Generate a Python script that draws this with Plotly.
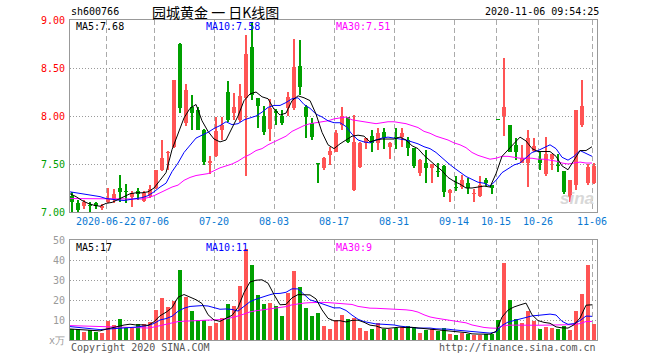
import plotly.graph_objects as go

# ---------------- data ----------------
date_labels = ["2020-06-22", "07-06", "07-20", "08-03", "08-17", "08-31", "09-14", "10-15", "10-26", "11-06"]
date_index = [6, 14, 24, 34, 44, 54, 64, 71, 78, 87]

opens = [7.17, 7.097, 7.066, 7.07, 7.09, 7.038, 7.108, 7.14, 7.25, 7.21,
         7.16, 7.215, 7.118, 7.17, 7.247, 7.438, 7.615, 7.68, 8.75, 7.93,
         8.09, 8.063, 7.854, 7.507, 7.583, 7.854, 8.254, 8.035, 7.958, 8.184,
         8.72, 8.184, 8.0, 7.865, 8.05, 8.0, 8.08, 8.08, 8.52, 8.09,
         7.93, 7.505, 7.455, 7.594, 7.63, 7.906, 7.986, 7.229, 7.47, 7.715,
         7.79, 7.715, 7.837, 7.68, 7.78, 7.78, 7.75, 7.663, 7.41, 7.507,
         7.455, 7.425, 7.48, 7.195, 7.257, 7.26, 7.306, 7.184, 7.167, 7.33,
         7.28, 7.965, 8.0, 7.906, 7.70, 7.514, 7.514, 7.64, 7.55, 7.396,
         7.555, 7.485, 7.427, 7.16, 7.28, 7.906, 7.30, 7.306]
highs = [7.21, 7.12, 7.12, 7.10, 7.10, 7.085, 7.25, 7.24, 7.385, 7.29,
         7.22, 7.25, 7.22, 7.28, 7.44, 7.75, 7.64, 8.38, 8.76, 8.33,
         8.22, 8.09, 7.86, 7.58, 7.99, 7.99, 8.36, 8.236, 8.33, 8.844,
         8.98, 8.19, 8.10, 8.18, 8.07, 8.06, 8.25, 8.80, 8.79, 8.11,
         7.98, 7.505, 7.57, 7.68, 7.85, 8.09, 7.99, 8.01, 7.73, 7.77,
         7.85, 7.87, 7.87, 7.73, 7.87, 7.87, 7.78, 7.67, 7.55, 7.646,
         7.50, 7.51, 7.49, 7.24, 7.37, 7.39, 7.35, 7.236, 7.37, 7.35,
         7.28, 7.965, 8.608, 7.91, 7.77, 7.70, 7.854, 7.77, 7.63, 7.78,
         7.60, 7.60, 7.43, 7.33, 8.06, 8.38, 7.50, 7.51]
lows = [7.00, 7.00, 7.03, 7.00, 7.035, 7.025, 7.09, 7.09, 7.10, 7.09,
        7.055, 7.125, 7.10, 7.15, 7.24, 7.43, 7.44, 7.67, 8.03, 7.90,
        7.85, 7.85, 7.49, 7.40, 7.57, 7.75, 7.94, 7.958, 7.94, 7.375,
        8.17, 7.88, 7.80, 7.74, 7.91, 7.91, 8.0, 8.06, 8.22, 7.77,
        7.75, 7.30, 7.44, 7.49, 7.62, 7.85, 7.72, 7.22, 7.46, 7.66,
        7.62, 7.65, 7.66, 7.55, 7.66, 7.68, 7.58, 7.455, 7.375, 7.306,
        7.30, 7.36, 7.16, 7.10, 7.22, 7.24, 7.19, 7.107, 7.16, 7.27,
        7.19, 7.96, 7.79, 7.63, 7.54, 7.51, 7.264, 7.63, 7.44, 7.37,
        7.44, 7.42, 7.19, 7.107, 7.23, 7.89, 7.28, 7.29]
closes = [7.108, 7.021, 7.108, 7.06, 7.063, 7.066, 7.14, 7.188, 7.21, 7.205,
          7.195, 7.188, 7.195, 7.24, 7.438, 7.563, 7.62, 8.375, 8.08, 8.27,
          8.03, 7.854, 7.524, 7.531, 7.844, 7.903, 7.958, 8.097, 8.21, 8.65,
          8.22, 8.10, 7.837, 8.08, 8.03, 7.93, 8.2, 8.507, 8.306, 7.99,
          7.785, 7.50, 7.566, 7.636, 7.826, 8.0, 7.733, 7.733, 7.715, 7.768,
          7.715, 7.82, 7.768, 7.72, 7.77, 7.826, 7.663, 7.48, 7.54, 7.458,
          7.5, 7.42, 7.212, 7.23, 7.25, 7.33, 7.247, 7.2, 7.28, 7.30,
          7.247, 7.96, 8.09, 7.63, 7.63, 7.56, 7.767, 7.688, 7.514, 7.60,
          7.60, 7.48, 7.21, 7.33, 8.06, 8.104, 7.472, 7.483]
volumes = [5.5, 5.5, 4.2, 5.2, 4.2, 3.7, 9.7, 7.7, 10.3, 6.0,
           5.8, 7.8, 8.0, 9.0, 14.8, 21.0, 16.5, 19.5, 35.0, 21.7,
           14.5, 10.0, 10.0, 7.0, 8.5, 11.0, 18.0, 17.0, 27.0, 45.5,
           37.5, 22.5, 18.0, 18.5, 17.0, 12.0, 23.5, 34.5, 26.5, 16.2,
           12.0, 13.5, 7.0, 5.5, 9.8, 12.5, 10.3, 11.0, 6.0, 4.5,
           5.3, 8.3, 5.7, 5.3, 6.2, 6.7, 7.0, 6.5, 3.7, 5.0,
           5.3, 4.5, 6.0, 3.2, 2.5, 3.7, 3.2, 2.7, 2.7, 2.8,
           3.2, 10.0, 38.7, 20.0, 10.7, 8.3, 14.5, 9.5, 5.5, 6.3,
           6.0, 5.5, 7.0, 5.0, 14.5, 23.0, 37.5, 8.0]

ma5 = [7.19, 7.16, 7.12, 7.09, 7.07, 7.06, 7.09, 7.10, 7.13, 7.16,
       7.19, 7.20, 7.20, 7.21, 7.25, 7.33, 7.41, 7.65, 7.82, 7.98,
       8.08, 8.12, 7.95, 7.84, 7.76, 7.73, 7.75, 7.87, 8.00, 8.16,
       8.23, 8.25, 8.20, 8.18, 8.07, 8.01, 8.03, 8.16, 8.21, 8.19,
       8.16, 8.02, 7.83, 7.70, 7.66, 7.71, 7.75, 7.79, 7.80, 7.79,
       7.73, 7.75, 7.76, 7.76, 7.76, 7.78, 7.75, 7.69, 7.66, 7.59,
       7.53, 7.48, 7.43, 7.36, 7.32, 7.29, 7.25, 7.25, 7.26, 7.27,
       7.26, 7.40, 7.58, 7.65, 7.71, 7.78, 7.74, 7.66, 7.63, 7.63,
       7.63, 7.58, 7.48, 7.44, 7.54, 7.64, 7.64, 7.68]
ma10 = [7.21, 7.20, 7.19, 7.18, 7.17, 7.16, 7.14, 7.13, 7.125, 7.12,
        7.13, 7.14, 7.15, 7.17, 7.21, 7.26, 7.30, 7.42, 7.51, 7.62,
        7.70, 7.77, 7.80, 7.83, 7.87, 7.90, 7.94, 7.91, 7.92, 7.96,
        7.98, 8.00, 8.04, 8.09, 8.11, 8.11, 8.14, 8.18, 8.19, 8.12,
        8.08, 8.02, 7.99, 7.95, 7.93, 7.93, 7.89, 7.81, 7.75, 7.73,
        7.72, 7.75, 7.77, 7.78, 7.77, 7.76, 7.75, 7.73, 7.71, 7.68,
        7.66, 7.62, 7.56, 7.51, 7.46, 7.41, 7.37, 7.34, 7.31, 7.30,
        7.27, 7.33, 7.41, 7.45, 7.49, 7.51, 7.57, 7.62, 7.64, 7.67,
        7.70, 7.66, 7.57, 7.54, 7.58, 7.64, 7.61, 7.58]
ma30 = [7.14, 7.14, 7.14, 7.14, 7.14, 7.14, 7.135, 7.135, 7.135, 7.135,
        7.135, 7.135, 7.135, 7.15, 7.17, 7.20, 7.23, 7.26, 7.28, 7.33,
        7.36, 7.38, 7.39, 7.40, 7.43, 7.46, 7.48, 7.50, 7.53, 7.57,
        7.60, 7.64, 7.66, 7.70, 7.73, 7.76, 7.79, 7.84, 7.87, 7.90,
        7.92, 7.93, 7.94, 7.95, 7.97, 7.98, 7.99, 7.96, 7.95, 7.94,
        7.93, 7.92, 7.93, 7.94, 7.94, 7.93, 7.92, 7.90, 7.88, 7.84,
        7.82, 7.79, 7.77, 7.75, 7.72, 7.70, 7.67, 7.62, 7.59, 7.57,
        7.55, 7.56, 7.58, 7.58, 7.57, 7.56, 7.56, 7.56, 7.55, 7.55,
        7.54, 7.53, 7.51, 7.50, 7.51, 7.52, 7.51, 7.51]

vma5 = [5.5, 5.3, 5.0, 4.9, 4.92, 4.56, 5.4, 6.1, 7.12, 7.48,
        7.9, 7.52, 7.58, 7.32, 9.08, 12.12, 13.86, 16.16, 21.36, 22.74,
        21.44, 20.14, 18.24, 12.64, 10.0, 9.3, 10.9, 12.3, 16.3, 23.7,
        29.0, 29.9, 30.1, 28.4, 22.7, 17.6, 17.8, 21.1, 22.7, 22.54,
        22.54, 20.54, 15.04, 10.84, 9.56, 9.66, 9.02, 9.82, 9.92, 8.86,
        7.42, 7.02, 5.96, 5.82, 6.16, 6.44, 6.18, 6.34, 6.02, 5.78,
        5.5, 5.0, 4.9, 4.8, 4.3, 3.98, 3.72, 3.06, 2.96, 3.02,
        2.92, 4.28, 11.48, 14.94, 16.52, 17.54, 18.44, 12.6, 9.7, 8.82,
        8.36, 6.56, 6.06, 5.96, 7.6, 11.0, 17.4, 17.6]
vma10 = [6.7, 6.4, 6.0, 5.8, 5.5, 5.2, 5.4, 5.7, 6.0, 6.2,
         6.23, 6.46, 6.84, 7.22, 8.28, 10.01, 10.69, 11.87, 14.34, 15.91,
         16.78, 17.0, 17.2, 17.0, 16.37, 15.37, 15.52, 15.27, 14.47, 16.85,
         19.15, 20.4, 21.2, 22.35, 23.2, 23.3, 23.85, 25.6, 25.55, 22.62,
         20.07, 19.17, 18.07, 16.77, 16.05, 16.1, 14.78, 12.43, 10.38, 9.21,
         8.54, 8.02, 7.89, 7.87, 7.51, 6.93, 6.6, 6.15, 5.92, 5.97,
         5.97, 5.59, 5.62, 5.41, 5.04, 4.74, 4.36, 3.98, 3.88, 3.66,
         3.45, 4.0, 7.27, 8.95, 9.77, 10.23, 11.36, 12.04, 12.32, 12.67,
         12.95, 12.5, 9.33, 7.83, 8.21, 9.68, 11.98, 11.83]
vma30 = [7.2, 7.1, 7.0, 6.9, 6.8, 6.7, 6.7, 6.6, 6.6, 6.5,
         6.3, 6.0, 5.9, 6.0, 6.5, 7.2, 7.6, 8.6, 9.2, 9.4,
         9.5, 9.6, 9.8, 9.9, 10.0, 10.2, 10.5, 11.2, 12.0, 12.99,
         14.05, 14.62, 15.08, 15.52, 15.95, 16.23, 16.69, 17.58, 18.12, 18.46,
         18.67, 18.86, 18.82, 18.71, 18.54, 18.26, 18.05, 17.77, 16.8, 16.23,
         15.92, 15.86, 15.72, 15.66, 15.59, 15.44, 15.08, 14.73, 13.95, 12.6,
         11.53, 10.93, 10.53, 10.02, 9.53, 9.26, 8.58, 7.52, 6.73, 6.28,
         5.99, 5.87, 6.93, 7.41, 7.44, 7.3, 7.44, 7.39, 7.37, 7.43,
         7.46, 7.36, 7.41, 7.4, 7.67, 8.22, 9.23, 9.28]

price_ticks = [7.0, 7.5, 8.0, 8.5, 9.0]
price_tick_colors = ["#00a000", "#00a000", "#ff0000", "#ff0000", "#ff0000"]
vol_ticks = [0, 10, 20, 30, 40, 50]
vol_tick_text = ["x万", "10", "20", "30", "40", "50"]

# ---------------- style ----------------
RED = "#ff5454"
GREEN = "#00a000"
MONO = "DejaVu Sans Mono"
W, H = 660, 360
PL, PR = 70, 597          # plot left / right (px)
MAIN_T, MAIN_B = 20, 212  # main panel top / bottom (px)
VOL_T, VOL_B = 240, 340   # volume panel top / bottom (px)
LINE_SHIFT = -0.33        # MA points & grid sit slightly left of candle centres

n = len(closes)
idx = list(range(n))
is_up = [c >= o for o, c in zip(opens, closes)]
colors = [RED if u else GREEN for u in is_up]
body_base = [min(o, c) for o, c in zip(opens, closes)]
body_h = [max(abs(c - o), 0.011) for o, c in zip(opens, closes)]
wick_h = [h - l for h, l in zip(highs, lows)]
line_x = [i + LINE_SHIFT for i in idx]

fig = go.Figure()

# wicks
fig.add_trace(go.Bar(x=idx, y=wick_h, base=lows, width=0.17,
                     marker=dict(color=colors, line=dict(width=0)),
                     xaxis="x", yaxis="y", hoverinfo="skip"))
# bodies
fig.add_trace(go.Bar(x=idx, y=body_h, base=body_base, width=0.8,
                     marker=dict(color=colors, line=dict(width=0)),
                     xaxis="x", yaxis="y", hoverinfo="skip"))
# price MAs
for vals, col in [(ma30, "#ff00ff"), (ma10, "#0000ff"), (ma5, "#000000")]:
    fig.add_trace(go.Scatter(x=line_x, y=vals, mode="lines",
                             line=dict(color=col, width=1), xaxis="x", yaxis="y",
                             hoverinfo="skip"))
# volume bars
fig.add_trace(go.Bar(x=idx, y=volumes, width=0.8,
                     marker=dict(color=colors, line=dict(width=0)),
                     xaxis="x2", yaxis="y2", hoverinfo="skip"))
for vals, col in [(vma30, "#ff00ff"), (vma10, "#0000ff"), (vma5, "#000000")]:
    fig.add_trace(go.Scatter(x=line_x, y=vals, mode="lines",
                             line=dict(color=col, width=1), xaxis="x2", yaxis="y2",
                             hoverinfo="skip"))

xdom = [PL / W, PR / W]
xr = [(PL - 72) / 6.0, (PR - 72) / 6.0]
grid_x = [i + LINE_SHIFT for i in date_index]

common_x = dict(domain=xdom, range=xr, tickmode="array", tickvals=grid_x,
                showgrid=True, gridcolor="#aaaaaa", griddash="5px,3px", gridwidth=1,
                showline=True, mirror=True, linecolor="#999999", linewidth=1,
                zeroline=False, ticks="", fixedrange=True, automargin=False)

fig.update_layout(
    width=W, height=H, margin=dict(l=0, r=0, t=0, b=0, pad=0, autoexpand=False),
    paper_bgcolor="white", plot_bgcolor="white", showlegend=False,
    barmode="overlay", bargap=0,
    xaxis=dict(common_x, anchor="y", ticktext=date_labels,
               tickfont=dict(family=MONO, size=10, color="#0a78d2")),
    yaxis=dict(domain=[(H - MAIN_B) / H, (H - MAIN_T) / H], range=[7.0, 9.0],
               tickmode="array", tickvals=price_ticks,
               ticktext=[f"<span style='color:{c}'>{v:.2f}</span>" for v, c in zip(price_ticks, price_tick_colors)],
               tickfont=dict(family=MONO, size=10), ticks="", ticklabelstandoff=2,
               showgrid=True, gridcolor="#9a9a9a", griddash="1px,2px", gridwidth=1,
               showline=True, mirror=True, linecolor="#999999", linewidth=1,
               zeroline=False, anchor="x", fixedrange=True, automargin=False),
    xaxis2=dict(common_x, anchor="y2", showticklabels=False),
    yaxis2=dict(domain=[(H - VOL_B) / H, (H - VOL_T) / H], range=[0, 50],
                tickmode="array", tickvals=vol_ticks, ticktext=vol_tick_text,
                tickfont=dict(family=MONO, size=10, color="#9a9a9a"), ticks="",
                ticklabelstandoff=2,
                showgrid=True, gridcolor="#9a9a9a", griddash="1px,2px", gridwidth=1,
                showline=True, mirror=True, linecolor="#999999", linewidth=1,
                zeroline=False, anchor="x2", fixedrange=True, automargin=False),
)


def ann(text, x, y, color="#000000", size=10, xanchor="left", family=MONO, **kw):
    fig.add_annotation(text=text, x=x / W, y=1 - y / H, xref="paper", yref="paper",
                       xanchor=xanchor, yanchor="middle", showarrow=False,
                       font=dict(family=family, size=size, color=color, **kw))


ann("sh600766", 69, 12)
ann("园城黄金 一 日K线图", 150, 12, size=14, family="Noto Sans CJK SC")
ann("2020-11-06 09:54:25", 601, 12, xanchor="right")

ann(f"MA5:{ma5[-1]:.2f}", 74, 27)
ann(f"MA10:{ma10[-1]:.2f}", 204, 27, color="#0000ff")
ann(f"MA30:{ma30[-1]:.2f}", 334, 27, color="#ff00ff")

ann(f"MA5:{int(vma5[-1])}", 74, 247)
ann(f"MA10:{int(vma10[-1])}", 204, 247, color="#0000ff")
ann(f"MA30:{int(vma30[-1])}", 334, 247, color="#ff00ff")

ann("Copyright 2020 SINA.COM", 69, 347, color="#555555")
ann("http://finance.sina.com.cn", 598, 347, color="#555555", xanchor="right")
ann("sina", 577, 198, color="#d8d8d8", size=17, xanchor="center",
    family="Liberation Sans", style="italic", weight="bold")

fig.write_html("out.html", config={"displayModeBar": False, "staticPlot": True},
               post_script="document.body.style.margin='0px';document.body.style.padding='0px';")
